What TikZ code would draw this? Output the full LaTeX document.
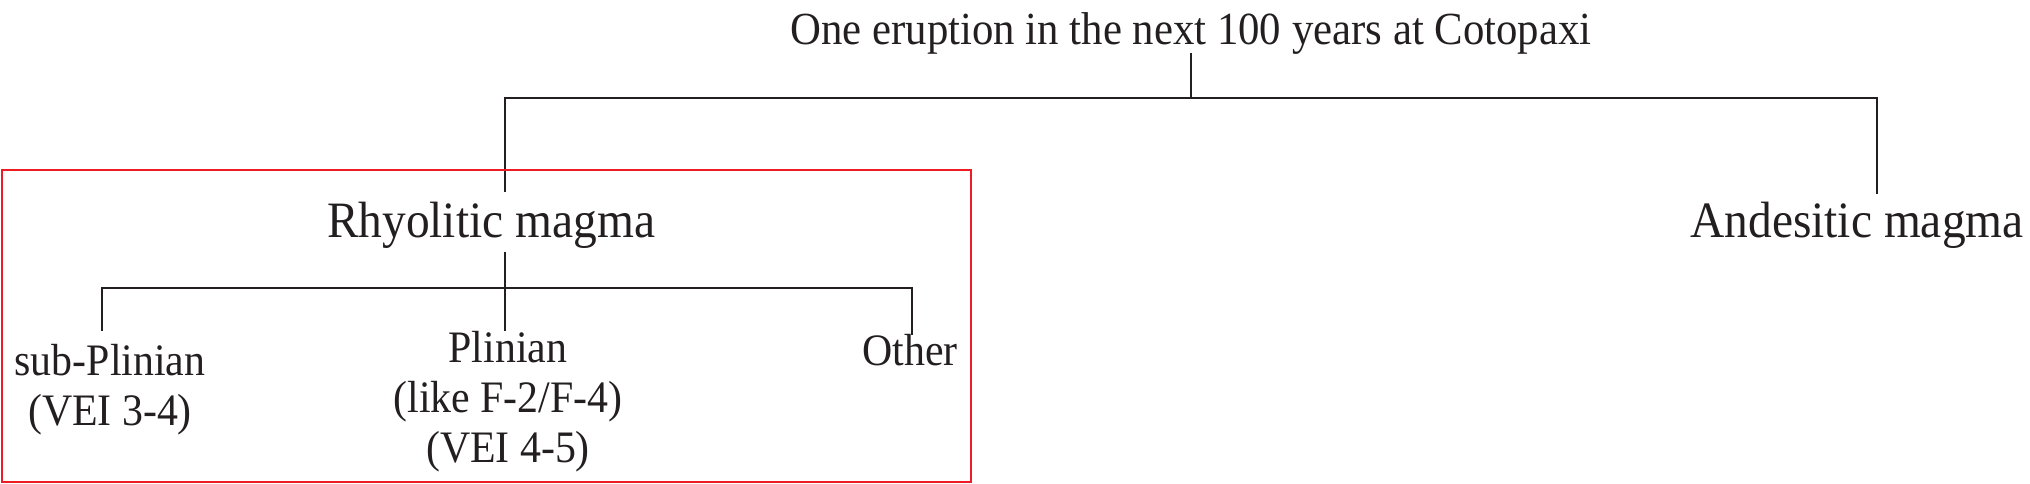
\documentclass[tikz,border=0pt]{standalone}
\usepackage{fontspec}
\setmainfont{Liberation Serif}[FakeStretch=0.93]
\definecolor{ink}{RGB}{35,31,32}
\definecolor{boxred}{RGB}{237,28,36}
\begin{document}
\begin{tikzpicture}[x=1pt,y=-1pt,
  top/.style={anchor=base,inner sep=0pt,text=ink,font=\fontsize{46}{52}\selectfont},
  big/.style={anchor=base,inner sep=0pt,text=ink,font=\fontsize{51}{58}\selectfont},
  small/.style={anchor=base,inner sep=0pt,text=ink,align=center,font=\fontsize{45}{50}\selectfont},
  tree/.style={draw=ink,line width=2pt},
  frame/.style={draw=boxred,line width=2.2pt}]
\useasboundingbox (0,0) rectangle (2030,484);
% nodes (base = baseline of last line)
\node[top] (title) at (1191,45) {One eruption in the next 100 years at Cotopaxi};
\node[big] (rhyo) at (491,237) {Rhyolitic magma};
\node[big] (andes) at (1857,237) {Andesitic magma};
\node[small] (sub) at (110,425) {sub-Plinian\\(VEI 3-4)};
\node[small] (plin) at (508,462) {Plinian\\(like F-2/F-4)\\(VEI 4-5)};
\node[small] (other) at (910,365) {Other};
% junction coordinates
\coordinate (t0) at (1191,53);
\coordinate (t1) at (1191,98);
\coordinate (r0) at (505,192);
\coordinate (a0) at (1877,194);
\coordinate (r1) at (505,252);
\coordinate (b) at (505,288);
\coordinate (s0) at (102,331);
\coordinate (p0) at (505,331);
\coordinate (o0) at (912,335);
% connectors
\draw[tree] (t0) -- (t1);
\draw[tree] (r0) -- (r0 |- t1) -- (a0 |- t1) -- (a0);
\draw[tree] (r1) -- (p0);
\draw[tree] (s0) -- (s0 |- b) -- (o0 |- b) -- (o0);
% red frame
\coordinate (f0) at (2,170);
\coordinate (f1) at (971,482);
\draw[frame] (f0) rectangle (f1);
\end{tikzpicture}
\end{document}
